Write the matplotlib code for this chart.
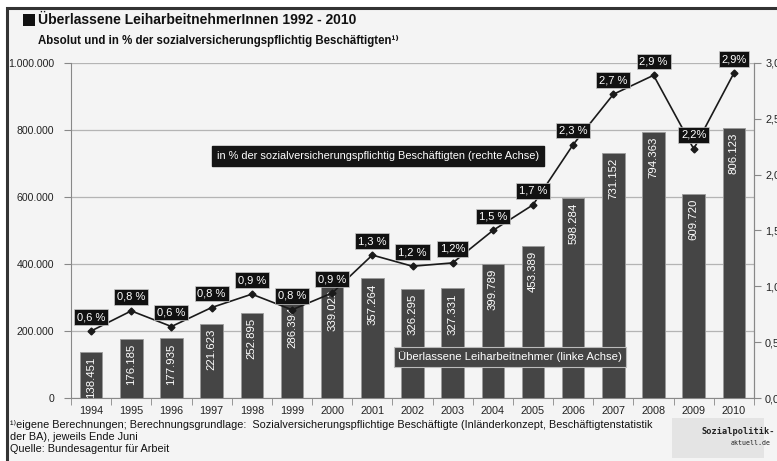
import matplotlib.pyplot as plt
import numpy as np
from matplotlib.patches import Rectangle

plt.rcParams['font.family'] = ['Liberation Sans', 'DejaVu Sans']

years = ['1994', '1995', '1996', '1997', '1998', '1999', '2000', '2001', '2002',
         '2003', '2004', '2005', '2006', '2007', '2008', '2009', '2010']
workers = [138451, 176185, 177935, 221623, 252895, 286394, 339022, 357264, 326295,
           327331, 399789, 453389, 598284, 731152, 794363, 609720, 806123]
share = [0.60, 0.78, 0.64, 0.81, 0.93, 0.79, 0.94, 1.28, 1.18,
         1.21, 1.50, 1.73, 2.27, 2.72, 2.89, 2.23, 2.91]
share_labels = ['0,6 %', '0,8 %', '0,6 %', '0,8 %', '0,9 %', '0,8 %', '0,9 %', '1,3 %', '1,2 %',
                '1,2%', '1,5 %', '1,7 %', '2,3 %', '2,7 %', '2,9 %', '2,2%', '2,9%']
left_ticks = [0, 200000, 400000, 600000, 800000, 1000000]
right_ticks = [0, 0.5, 1.0, 1.5, 2.0, 2.5, 3.0]

bg = '#f4f4f4'
fig = plt.figure(figsize=(7.77, 4.61), dpi=100)
fig.patch.set_facecolor('white')

# frame of the graphic
fig.patches.append(Rectangle((7 / 777, -0.1), 1.0, 1.1 - 8 / 461, transform=fig.transFigure,
                             facecolor=bg, edgecolor='#333333', linewidth=2.2, zorder=-10))

ax = fig.add_axes([71 / 777, 1 - 398 / 461, 683 / 777, 335 / 461])
ax.set_facecolor(bg)
x = np.arange(len(years))

# bars (left axis)
ax.bar(x, workers, width=0.56, color='#454545', edgecolor='#9a9a9a', linewidth=0.6, zorder=3)
for xi, v in zip(x, workers):
    ax.annotate(f'{v:,}'.replace(',', '.'), (xi, v), xytext=(0, -5), textcoords='offset pixels',
                rotation=90, ha='center', va='top', color='white', fontsize=8.2, zorder=4)

ax.set_xlim(-0.5, len(years) - 0.5)
ax.set_ylim(0, 1000000)
ax.set_yticks(left_ticks)
ax.set_yticklabels([f'{t:,}'.replace(',', '.') for t in left_ticks], fontsize=7.6, color='#222222')
ax.grid(axis='y', color='#b4b4b4', linewidth=0.9, zorder=0)
ax.set_xticks(x)
ax.set_xticklabels(years, fontsize=7.8, color='#222222')
ax.tick_params(axis='x', length=0, pad=6)
ax.set_xticks(np.arange(len(years) + 1) - 0.5, minor=True)
ax.tick_params(axis='x', which='minor', length=5, color='#888888')
ax.tick_params(axis='y', length=5, color='#888888', pad=7)
ax.spines['top'].set_visible(False)
for s in ['left', 'bottom', 'right']:
    ax.spines[s].set_color('#888888')

# line (right axis)
ax2 = ax.twinx()
ax2.plot(x, share, color='#1a1a1a', linewidth=1.2, marker='D', markersize=3.5, zorder=5)
ax2.set_ylim(0, 3.0)
ax2.set_yticks(right_ticks)
ax2.set_yticklabels([f'{t:.1f}'.replace('.', ',') for t in right_ticks], fontsize=7.8, color='#222222')
ax2.tick_params(axis='y', length=5, color='#888888', pad=3)
for s in ['top', 'left', 'bottom']:
    ax2.spines[s].set_visible(False)
ax2.spines['right'].set_color('#888888')
for xi, v, lab in zip(x, share, share_labels):
    ax2.annotate(lab, (xi, v), xytext=(0, 14), textcoords='offset pixels', ha='center', va='center',
                 color='white', fontsize=8, zorder=6,
                 bbox=dict(boxstyle='square,pad=0.25', facecolor='#111111', edgecolor='#cccccc', linewidth=0.5))

# legend-like boxes
fig.text(378 / 777, 1 - 156 / 461, 'in % der sozialversicherungspflichtig Beschäftigten (rechte Achse)',
         ha='center', va='center', color='white', fontsize=7.9,
         bbox=dict(boxstyle='square,pad=0.45', facecolor='#151515', edgecolor='#151515'))
fig.text(510 / 777, 1 - 357 / 461, 'Überlassene Leiharbeitnehmer (linke Achse)',
         ha='center', va='center', color='white', fontsize=8.2,
         bbox=dict(boxstyle='square,pad=0.4', facecolor='#444444', edgecolor='#bbbbbb', linewidth=0.8))

# titles
fig.patches.append(Rectangle((23 / 777, 1 - 26 / 461), 12 / 777, 12 / 461, transform=fig.transFigure,
                             facecolor='#111111', edgecolor='none'))
fig.text(38 / 777, 1 - 20 / 461, 'Überlassene LeiharbeitnehmerInnen 1992 - 2010',
         ha='left', va='center', fontsize=10, fontweight='bold', color='#111111')
fig.text(38 / 777, 1 - 41 / 461, 'Absolut und in % der sozialversicherungspflichtig Beschäftigten¹⁾',
         ha='left', va='center', fontsize=8.3, fontweight='bold', color='#111111')

# footnote
foot = ['¹⁾eigene Berechnungen; Berechnungsgrundlage:  Sozialversicherungspflichtige Beschäftigte '
        '(Inländerkonzept, Beschäftigtenstatistik',
        'der BA), jeweils Ende Juni',
        'Quelle: Bundesagentur für Arbeit']
for i, line in enumerate(foot):
    fig.text(10 / 777, 1 - (425 + i * 12) / 461, line, ha='left', va='center', fontsize=7.8,
             color='#111111')

# logo placeholder
fig.patches.append(Rectangle((672 / 777, 1 - 458 / 461), 92 / 777, 40 / 461, transform=fig.transFigure,
                             facecolor='#e4e4e4', edgecolor='none', zorder=1))
fig.text(702 / 777, 1 - 431 / 461, 'Sozialpolitik-', ha='left', va='center', fontsize=6.2,
         fontweight='bold', family='DejaVu Sans Mono', color='#222222')
fig.text(731 / 777, 1 - 443 / 461, 'aktuell.de', ha='left', va='center', fontsize=4.8,
         family='DejaVu Sans Mono', color='#222222')

fig.savefig('out.png', dpi=100, facecolor=fig.get_facecolor())
